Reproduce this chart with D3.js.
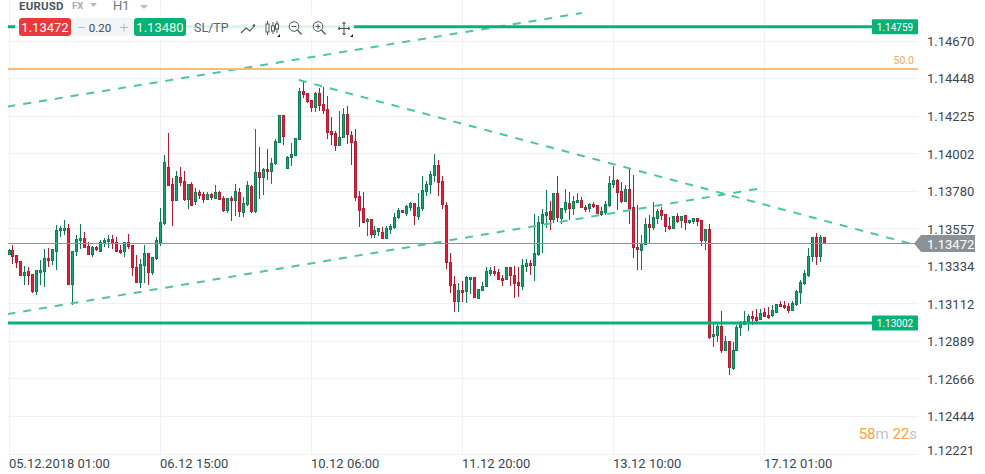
<!DOCTYPE html>
<html><head><meta charset="utf-8">
<style>html,body{margin:0;padding:0;background:#fff;overflow:hidden}svg{display:block}text{font-family:Roboto,sans-serif}</style>
<script src="https://cdn.jsdelivr.net/npm/d3@7/dist/d3.min.js"></script>
</head><body><div id="chart"></div>
<script>
const priceTicks=[1.14670,1.14448,1.14225,1.14002,1.13780,1.13557,1.13334,1.13112,1.12889,1.12666,1.12444,1.12221];
const timeTickIndex=[0,38,76,114,152,190];
const timeTickLabels=["05.12.2018 01:00","06.12 15:00","10.12 06:00","11.12 20:00","13.12 10:00","17.12 01:00"];
// prices in 1/100000 units
const opens=[113407,113435,113403,113368,113283,113310,113291,113188,113300,113306,
113387,113372,113425,113550,113550,113563,113229,113421,113490,113504,
113457,113407,113451,113425,113474,113484,113498,113480,113433,113425,
113480,113463,113332,113241,113342,113415,113300,113383,113478,113589,
113925,113824,113727,113865,113842,113731,113824,113719,113778,113765,
113731,113765,113737,113778,113741,113666,113741,113725,113776,113656,
113701,113814,113660,113895,113863,113913,113899,113943,114071,114233,
113913,113982,113994,114085,114375,114364,114322,114279,114364,114298,
114269,114138,114126,114053,114097,114239,114115,114079,113753,113682,
113602,113616,113523,113543,113539,113500,113555,113567,113622,113670,
113650,113686,113711,113632,113680,113780,113822,113875,113937,113842,
113699,113362,113231,113128,113196,113188,113259,113275,113146,113194,
113217,113293,113310,113304,113267,113259,113332,113285,113243,113217,
113332,113356,113342,113405,113591,113639,113664,113615,113771,113621,
113672,113712,113678,113716,113729,113690,113680,113706,113700,113644,
113656,113698,113822,113848,113783,113722,113795,113688,113451,113431,
113467,113587,113565,113621,113670,113646,113575,113561,113635,113609,
113641,113595,113601,113623,113611,113488,113557,112917,112927,112982,
112838,112893,112731,112834,112970,112988,112994,113042,113036,113020,
113065,113048,113046,113063,113113,113107,113101,113075,113111,113182,
113235,113283,113392,113510,113396,113510];
const closes=[113435,113395,113360,113283,113304,113283,113186,113314,113314,113385,
113372,113439,113552,113563,113563,113229,113427,113498,113504,113449,
113407,113451,113437,113480,113492,113498,113474,113425,113417,113480,
113455,113326,113241,113350,113415,113300,113391,113492,113599,113954,
113816,113727,113871,113834,113731,113824,113695,113776,113755,113733,
113765,113743,113776,113731,113666,113741,113725,113782,113660,113711,
113818,113660,113895,113863,113913,113899,113948,114079,114233,114107,
113984,114002,114097,114375,114356,114314,114279,114364,114287,114261,
114130,114118,114053,114103,114239,114115,114071,113745,113668,113597,
113616,113523,113551,113563,113500,113563,113575,113628,113672,113652,
113693,113711,113634,113687,113788,113824,113883,113937,113834,113699,
113359,113223,113128,113196,113180,113275,113275,113152,113202,113221,
113310,113314,113293,113259,113251,113332,113281,113233,113223,113344,
113356,113340,113415,113599,113646,113660,113615,113771,113627,113682,
113718,113678,113724,113729,113686,113672,113706,113690,113650,113666,
113706,113830,113848,113775,113720,113795,113678,113449,113435,113474,
113587,113565,113629,113664,113637,113571,113557,113635,113601,113635,
113595,113611,113623,113601,113488,113557,112911,112935,112982,112838,
112893,112737,112840,112976,113000,113012,113042,113024,113014,113059,
113040,113034,113077,113113,113099,113093,113075,113119,113190,113243,
113297,113398,113510,113396,113510,113472];
const highs=[113439,113465,113403,113368,113340,113334,113291,113314,113376,113441,
113447,113439,113583,113577,113613,113589,113427,113524,113589,113542,
113480,113457,113457,113494,113506,113526,113524,113510,113463,113480,
113530,113463,113403,113380,113465,113415,113391,113510,113684,113998,
114128,113863,113901,113925,113901,113824,113836,113802,113788,113776,
113778,113772,113818,113784,113755,113741,113755,113826,113802,113749,
113842,113818,114152,114045,113919,114033,113978,114093,114233,114233,
113990,114069,114097,114393,114429,114364,114322,114370,114393,114399,
114346,114223,114138,114257,114275,114287,114138,114150,113782,113778,
113622,113616,113575,113563,113569,113577,113587,113652,113682,113670,
113701,113719,113711,113772,113871,113842,113901,114002,113968,113871,
113717,113415,113279,113237,113251,113281,113275,113275,113202,113245,
113334,113334,113338,113322,113285,113332,113332,113338,113334,113382,
113382,113374,113646,113635,113678,113789,113726,113771,113874,113682,
113797,113779,113753,113771,113747,113700,113712,113718,113700,113692,
113724,113872,113931,113854,113836,113818,113919,113878,113700,113522,
113623,113641,113718,113676,113688,113646,113631,113635,113652,113635,
113641,113611,113623,113623,113611,113557,113587,113000,113000,113073,
112923,112893,112887,112988,113012,113071,113054,113071,113083,113083,
113089,113095,113109,113113,113133,113133,113119,113131,113196,113255,
113314,113445,113510,113534,113522,113510];
const lows=[113403,113352,113330,113283,113227,113227,113182,113168,113227,113215,
113334,113346,113316,113512,113524,113229,113109,113399,113441,113445,
113405,113393,113429,113425,113453,113445,113443,113425,113411,113393,
113443,113281,113241,113212,113237,113227,113289,113378,113459,113583,
113816,113577,113727,113816,113725,113678,113695,113701,113737,113713,
113731,113731,113737,113731,113660,113654,113606,113636,113630,113630,
113695,113652,113652,113737,113761,113850,113826,113937,114067,114057,
113913,113933,113994,114085,114334,114308,114255,114255,114261,114241,
114095,114059,114024,114053,114097,114061,113941,113727,113573,113597,
113519,113506,113506,113519,113500,113500,113529,113561,113616,113652,
113638,113664,113583,113612,113666,113757,113765,113836,113755,113680,
113322,113182,113069,113069,113128,113123,113174,113152,113146,113194,
113217,113281,113281,113259,113221,113259,113221,113152,113156,113198,
113304,113287,113251,113397,113417,113563,113554,113595,113603,113589,
113652,113611,113642,113712,113682,113660,113658,113686,113648,113639,
113642,113692,113805,113672,113714,113722,113589,113389,113316,113316,
113467,113474,113554,113589,113613,113542,113554,113561,113595,113565,
113554,113589,113589,113577,113459,113435,112907,112862,112891,112826,
112838,112696,112725,112834,112927,112988,112957,112990,113000,113020,
113036,113028,113040,113059,113095,113083,113063,113071,113105,113117,
113229,113277,113366,113348,113366,113472];
const levels=[{p:1.14759,label:"1.14759"},{p:1.13002,label:"1.13002"}];
const rsiLevel=1.14508, rsiLabel="50.0";
const currentPrice=1.13472, askPrice=1.13480, spreadLabel="0.20";
const trendA=[[-0.4,1.14285],[144,1.14840]];
const trendB=[[72.85,1.14443],[227.8,1.13465]];
const trendC=[[-0.4,1.13055],[188.1,1.13797]];

const W=985,H=474;
const x=d3.scaleLinear().domain([1,205]).range([12.99,824.5]);
const y=d3.scaleLinear().domain([1.13002,1.14759]).range([323,26.7]);
const px=i=>Math.floor(x(i));
const svg=d3.select("#chart").append("svg").attr("width",W).attr("height",H);
svg.append("defs").append("clipPath").attr("id","plot").append("rect").attr("x",8).attr("y",0).attr("width",910).attr("height",456);

// grid
const grid=svg.append("g").attr("stroke","#f1f1f1").attr("stroke-width",1);
priceTicks.forEach(t=>{const yy=Math.round(y(t)-1.2)+.5;grid.append("line").attr("x1",8).attr("x2",918).attr("y1",yy).attr("y2",yy);});
timeTickIndex.forEach(i=>{const xx=px(i)+.5;grid.append("line").attr("x1",xx).attr("x2",xx).attr("y1",0).attr("y2",454);});

const plot=svg.append("g").attr("clip-path","url(#plot)");
// candles
const candles=d3.range(opens.length).map(i=>({i,o:opens[i]/1e5,h:highs[i]/1e5,l:lows[i]/1e5,c:closes[i]/1e5}));
const colors={up:{w:"#0e7c52",b:"#0f7d54",f:"#13a66e"},dn:{w:"#b31b30",b:"#b81c33",f:"#ea1b36"}};
const g=plot.selectAll("g.c").data(candles).join("g");
g.append("line").attr("x1",d=>px(d.i)+.5).attr("x2",d=>px(d.i)+.5)
 .attr("y1",d=>Math.round(y(d.h))).attr("y2",d=>Math.round(y(d.l)))
 .attr("stroke",d=>(d.c>=d.o?colors.up:colors.dn).w);
g.append("rect").attr("x",d=>px(d.i)-.5).attr("width",2)
 .attr("y",d=>Math.round(y(Math.max(d.o,d.c)))+.5)
 .attr("height",d=>Math.max(1,Math.round(y(Math.min(d.o,d.c)))-Math.round(y(Math.max(d.o,d.c)))-1))
 .attr("fill",d=>(d.c>=d.o?colors.up:colors.dn).f)
 .attr("stroke",d=>(d.c>=d.o?colors.up:colors.dn).b);

// trend lines
const ln=d3.line().x(d=>x(d[0])).y(d=>y(d[1]));
[trendA,trendB,trendC].forEach(t=>plot.append("path").attr("d",ln(t)).attr("fill","none").attr("stroke","#4cc79d").attr("stroke-width",2).attr("stroke-dasharray","8,8"));

// horizontal levels
svg.append("line").attr("x1",8).attr("x2",918).attr("y1",y(rsiLevel)).attr("y2",y(rsiLevel)).attr("stroke","#f8bd73").attr("stroke-width",2);
svg.append("text").attr("x",914).attr("y",y(rsiLevel)-5).attr("text-anchor","end").attr("font-size",10.5).attr("fill","#f5a864").text(rsiLabel);
svg.append("line").attr("x1",8).attr("x2",916).attr("y1",Math.round(y(currentPrice))+.5-1).attr("y2",Math.round(y(currentPrice))+.5-1).attr("stroke","#8d9397");
levels.forEach(l=>{
  const yy=y(l.p);
  svg.append("line").attr("x1",8).attr("x2",873).attr("y1",yy).attr("y2",yy).attr("stroke","#06b278").attr("stroke-width",3);
  svg.append("rect").attr("x",872).attr("y",yy-7.5).attr("width",46).attr("height",15).attr("fill","#06b278").attr("rx",1);
  svg.append("text").attr("x",895).attr("y",yy+3.8).attr("text-anchor","middle").attr("font-size",10).attr("fill","#fff").text(l.label);
});

// axes
const yAxis=d3.axisRight(y).tickValues(priceTicks).tickFormat(d3.format(".5f")).tickSize(0).tickPadding(0);
const ay=svg.append("g").attr("transform","translate(927,0)").call(yAxis);
ay.select(".domain").remove();
ay.selectAll("text").attr("font-size",13).attr("fill","#3a4652").attr("font-family","Roboto,sans-serif");
ay.selectAll(".tick").attr("transform",(d,i)=>`translate(0,${y(d)+(i===priceTicks.length-1?-4:0)})`);
const xAxis=d3.axisBottom(x).tickValues(timeTickIndex).tickFormat((d,i)=>timeTickLabels[i]).tickSize(0).tickPadding(0);
const ax=svg.append("g").attr("transform","translate(0,456)").call(xAxis);
ax.select(".domain").remove();
ax.selectAll("text").attr("font-size",13).attr("fill","#3a4652").attr("text-anchor","start").attr("font-family","Roboto,sans-serif").attr("dy",".95em");
ax.selectAll(".tick").attr("transform",d=>`translate(${px(d)},0)`);

// current price tag
const cy=Math.round(y(currentPrice))-.5;
svg.append("path").attr("d",`M914,${cy} L921,${cy-8.5} H975 V${cy+8.5} H921 Z`).attr("fill","#8b9297");
svg.append("text").attr("x",927).attr("y",cy+5).attr("font-size",13).attr("fill","#fff").text(d3.format(".5f")(currentPrice));

// countdown
const cd=svg.append("text").attr("x",917).attr("y",439).attr("text-anchor","end").attr("font-size",15);
[["58","#ffa23f"],["m","#bfc5ca"],[" 22","#ffa23f"],["s","#bfc5ca"]].forEach(([t,c])=>cd.append("tspan").attr("fill",c).attr("xml:space","preserve").text(t));

// toolbar
const tb=svg.append("g");
tb.append("rect").attr("x",15).attr("y",15).attr("width",339).attr("height",24).attr("fill","#fff").attr("opacity",.86);
tb.append("text").attr("x",19).attr("y",9.5).attr("font-size",11.5).attr("font-weight",700).attr("fill","#4b5763").attr("letter-spacing",.2).text("EURUSD");
tb.append("text").attr("x",72).attr("y",9).attr("font-size",9.5).attr("font-weight",700).attr("fill","#a5abb1").text("FX");
tb.append("path").attr("d","M90,3 H97 L93.5,7 Z").attr("fill","#b8bdc2");
tb.append("text").attr("x",113).attr("y",9.5).attr("font-size",13).attr("fill","#6d7780").text("H1");
tb.append("path").attr("d","M140,5 H148 L144,9 Z").attr("fill","#b8bdc2");
tb.append("rect").attr("x",71).attr("y",18).attr("width",63).attr("height",18).attr("fill","#f2f4f6");
tb.append("rect").attr("x",19).attr("y",18).attr("width",52).attr("height",18).attr("rx",3).attr("fill","#e83a3c");
tb.append("rect").attr("x",134).attr("y",18).attr("width",52).attr("height",18).attr("rx",3).attr("fill","#03b277");
tb.append("text").attr("x",45).attr("y",32).attr("text-anchor","middle").attr("font-size",13).attr("fill","#fff").text(d3.format(".5f")(currentPrice));
tb.append("text").attr("x",160).attr("y",32).attr("text-anchor","middle").attr("font-size",13).attr("fill","#f2fbe8").text(d3.format(".5f")(askPrice));
tb.append("text").attr("x",100).attr("y",31.5).attr("text-anchor","middle").attr("font-size",11.5).attr("fill","#3d4650").text(spreadLabel);
tb.append("path").attr("d","M78,27.5 H85 M120,27.5 H128 M124,23.5 V31.5").attr("stroke","#b4b9be").attr("fill","none");
tb.append("text").attr("x",194).attr("y",32).attr("font-size",12.5).attr("fill","#596570").text("SL/TP");
const ic="#4b5660";
tb.append("path").attr("d","M241,33 L246,28 L250,31 L254,26").attr("stroke",ic).attr("stroke-width",1.2).attr("fill","none");
tb.append("circle").attr("cx",254).attr("cy",25.5).attr("r",1.2).attr("fill",ic);
tb.append("path").attr("d","M267.5,21 V35 M273,22 V34 M277,21 V33").attr("stroke",ic).attr("fill","none");
tb.append("rect").attr("x",266).attr("y",24).attr("width",3).attr("height",8).attr("fill","#fff").attr("stroke",ic);
tb.append("rect").attr("x",271.5).attr("y",26).attr("width",3).attr("height",5).attr("fill","#fff").attr("stroke",ic);
tb.append("rect").attr("x",275.5).attr("y",24).attr("width",3).attr("height",5).attr("fill","#fff").attr("stroke",ic);
[294,318].forEach((cx,k)=>{
  tb.append("circle").attr("cx",cx).attr("cy",26.5).attr("r",4.8).attr("fill","#fff").attr("stroke",ic);
  tb.append("path").attr("d",`M${cx+3.5},30 L${cx+7.5},34.5`).attr("stroke",ic).attr("stroke-width",1.3);
  tb.append("path").attr("d",k?`M${cx-2.5},26.5 H${cx+2.5} M${cx},24 V29`:`M${cx-2.5},26.5 H${cx+2.5}`).attr("stroke",ic);
});
tb.append("path").attr("d","M344,22 V35 M338,28.5 H350 M342.5,24 L344,22 L345.5,24 M342.5,33 L344,35 L345.5,33 M340,27 L338,28.5 L340,30 M348,27 L350,28.5 L348,30").attr("stroke",ic).attr("fill","none");
tb.append("path").attr("d","M277,37 H280 V34 Z M350,37 H353 V34 Z").attr("fill","#222");
</script></body></html>
